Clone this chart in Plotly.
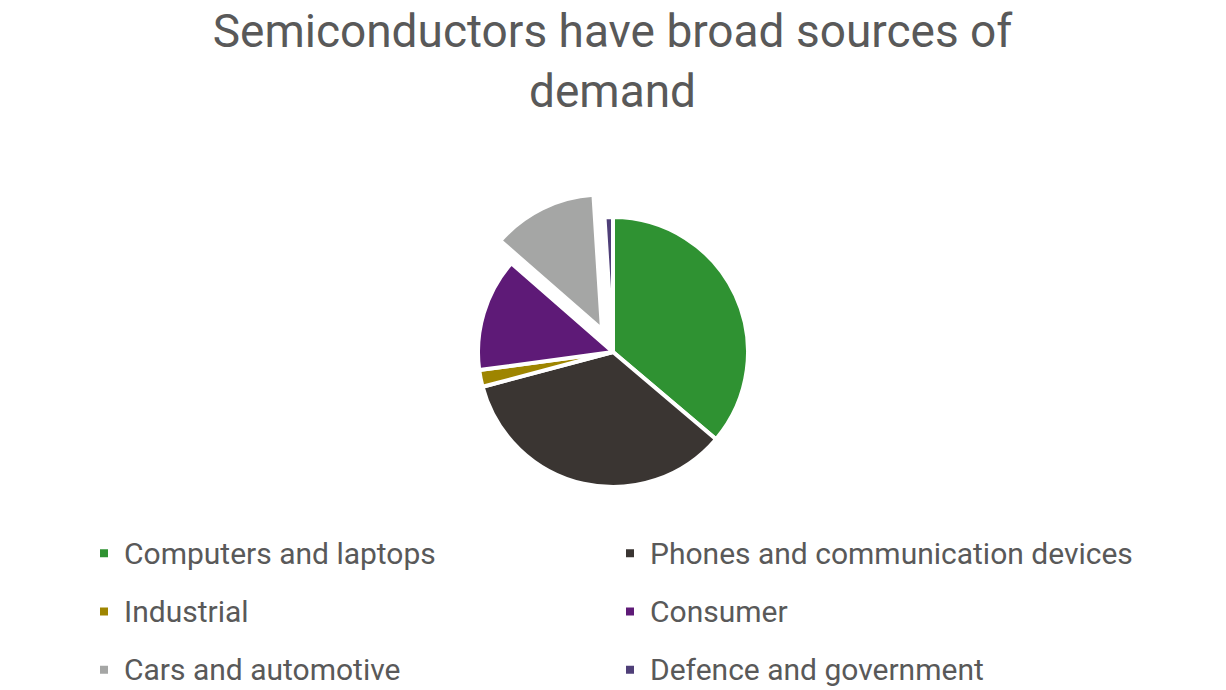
import plotly.graph_objects as go

categories = ["Computers and laptops", "Phones and communication devices", "Industrial",
              "Consumer", "Cars and automotive", "Defence and government"]
shares = [36.0, 34.5, 2.0, 13.5, 12.5, 1.0]
colors = ["#2f9232", "#3a3532", "#9e8500", "#5e1a77", "#a5a6a5", "#4f3f78"]
pulls = [0.0, 0.0, 0.0, 0.0, 0.185, 0.0]

title_lines = ["Semiconductors have broad sources of", "demand"]

W, H = 1226, 690
OFF = 8  # default page body margin
cx, cy, r = 613 - OFF, 352 - OFF, 135
box = 2 * r * (1 + max(pulls))

fig = go.Figure(go.Pie(
    labels=[f"<span style='font-size:30px;baseline-shift:6px'>{c}</span>" for c in categories],
    values=shares,
    sort=False,
    direction="clockwise",
    rotation=0,
    pull=pulls,
    marker=dict(colors=colors, line=dict(color="white", width=4)),
    textinfo="none",
    hoverinfo="label+percent",
    domain=dict(x=[(cx - box / 2) / W, (cx + box / 2) / W],
                y=[(H - cy - box / 2) / H, (H - cy + box / 2) / H]),
))

fig.update_layout(
    width=W, height=H,
    margin=dict(l=0, r=0, t=0, b=0, autoexpand=False),
    paper_bgcolor="white",
    font=dict(family="Roboto", color="#595959"),
    title=dict(text="<br>".join(title_lines),
               x=(612.5 - OFF) / W, xanchor="center", y=1 - 38.7 / H, yanchor="top",
               font=dict(family="Roboto", size=46, color="#595959")),
    showlegend=True,
    legend=dict(orientation="h", x=(103 - OFF - 19) / W, xanchor="left",
                y=1 - (553 - OFF - 34) / H, yanchor="top",
                entrywidth=481, entrywidthmode="pixels",
                font=dict(family="Roboto", size=42.5, color="#595959"),
                bgcolor="rgba(0,0,0,0)"),
)

fig.write_html("out.html")
